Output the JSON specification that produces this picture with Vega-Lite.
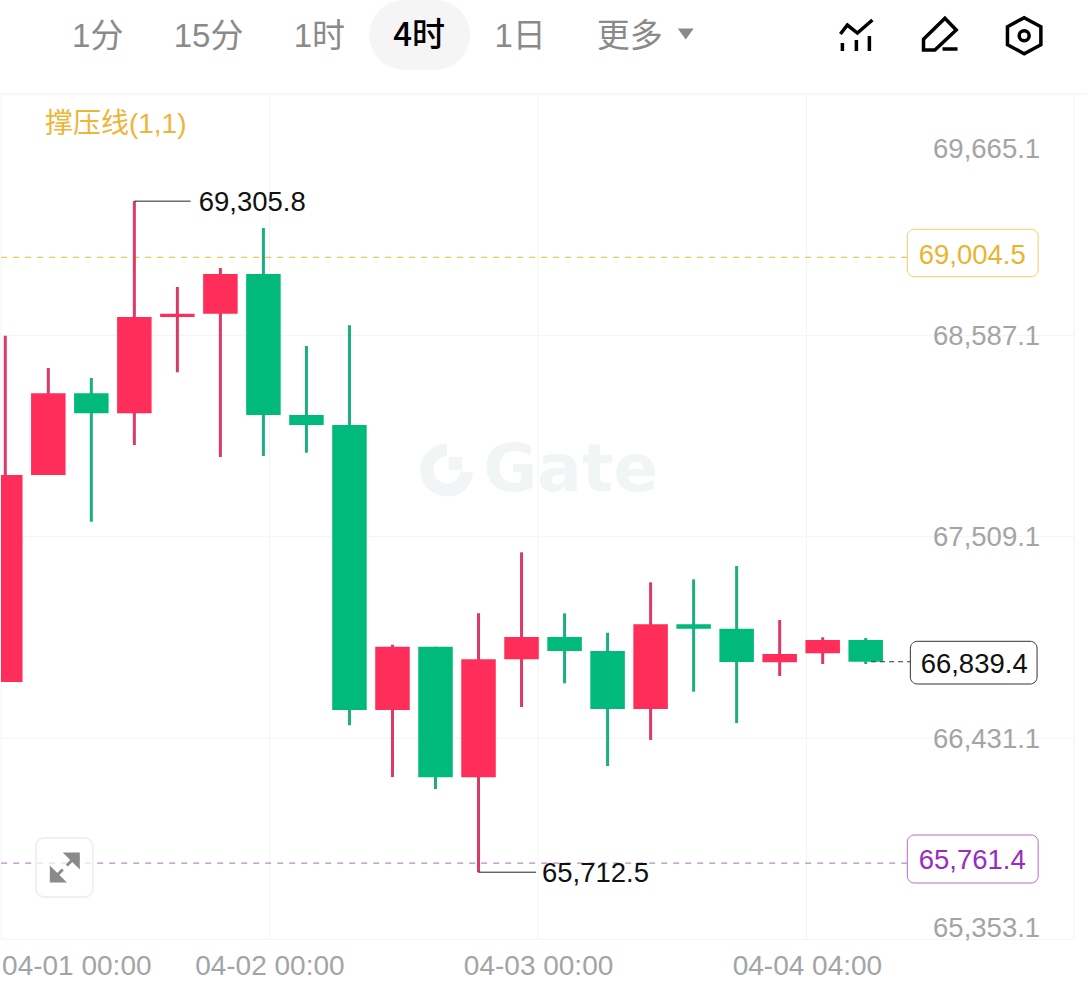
{"$schema":"https://vega.github.io/schema/vega-lite/v6.json","width":1088,"height":985,"padding":0,"autosize":{"type":"fit","contains":"padding"},"background":"#ffffff","config":{"view":{"stroke":null},"text":{"font":"Liberation Sans, Noto Sans CJK SC"}},
"datasets":{
"candles":[
{"t":"2024-04-01T00:00:00Z","open":66730.9,"high":68585.3,"low":66730.9,"close":67839.4,"dir":"up"},
{"t":"2024-04-01T04:00:00Z","open":67839.4,"high":68412.4,"low":67839.4,"close":68276.9,"dir":"up"},
{"t":"2024-04-01T08:00:00Z","open":68276.9,"high":68358.8,"low":67589.3,"close":68169.8,"dir":"down"},
{"t":"2024-04-01T12:00:00Z","open":68169.8,"high":69305.8,"low":68000.0,"close":68685.5,"dir":"up"},
{"t":"2024-04-01T16:00:00Z","open":68685.5,"high":68846.1,"low":68389.3,"close":68703.1,"dir":"up"},
{"t":"2024-04-01T20:00:00Z","open":68703.1,"high":68947.9,"low":67935.8,"close":68915.7,"dir":"up"},
{"t":"2024-04-02T00:00:00Z","open":68915.7,"high":69162.1,"low":67941.1,"close":68160.7,"dir":"down"},
{"t":"2024-04-02T04:00:00Z","open":68160.7,"high":68530.2,"low":67958.8,"close":68107.1,"dir":"down"},
{"t":"2024-04-02T08:00:00Z","open":68107.1,"high":68641.0,"low":66499.0,"close":66580.9,"dir":"down"},
{"t":"2024-04-02T12:00:00Z","open":66580.9,"high":66930.6,"low":66222.2,"close":66919.9,"dir":"up"},
{"t":"2024-04-02T16:00:00Z","open":66919.9,"high":66919.9,"low":66157.9,"close":66220.6,"dir":"down"},
{"t":"2024-04-02T20:00:00Z","open":66220.6,"high":67098.8,"low":65712.5,"close":66852.5,"dir":"up"},
{"t":"2024-04-03T00:00:00Z","open":66852.5,"high":67425.4,"low":66597.0,"close":66971.9,"dir":"up"},
{"t":"2024-04-03T04:00:00Z","open":66971.9,"high":67098.8,"low":66723.9,"close":66896.9,"dir":"down"},
{"t":"2024-04-03T08:00:00Z","open":66896.9,"high":66994.9,"low":66281.1,"close":66586.3,"dir":"down"},
{"t":"2024-04-03T12:00:00Z","open":66586.3,"high":67264.8,"low":66420.3,"close":67039.9,"dir":"up"},
{"t":"2024-04-03T16:00:00Z","open":67039.9,"high":67280.8,"low":66678.9,"close":67016.3,"dir":"down"},
{"t":"2024-04-03T20:00:00Z","open":67016.3,"high":67352.1,"low":66511.3,"close":66838.0,"dir":"down"},
{"t":"2024-04-04T00:00:00Z","open":66836.4,"high":67062.9,"low":66763.0,"close":66880.8,"dir":"up"},
{"t":"2024-04-04T04:00:00Z","open":66884.5,"high":66970.3,"low":66827.3,"close":66955.8,"dir":"up"},
{"t":"2024-04-04T08:00:00Z","open":66955.8,"high":66966.5,"low":66827.3,"close":66839.4,"dir":"down"}
],
"hgrid":[{"p":68587.1,"t":"2024-03-31T23:37:00Z","t2":"2024-04-05T03:28:00Z"},{"p":67509.1,"t":"2024-03-31T23:37:00Z","t2":"2024-04-05T03:28:00Z"},{"p":66431.1,"t":"2024-03-31T23:37:00Z","t2":"2024-04-05T03:28:00Z"},{"p":65353.1,"t":"2024-03-31T23:37:00Z","t2":"2024-04-05T03:28:00Z"}],
"vgrid":[{"t":"2024-03-31T23:37:00Z","p":69879.7,"p2":65353.1},{"t":"2024-04-02T00:34:00Z","p":69879.7,"p2":65353.1},{"t":"2024-04-03T01:32:00Z","p":69879.7,"p2":65353.1},{"t":"2024-04-04T02:30:00Z","p":69879.7,"p2":65353.1},{"t":"2024-04-05T03:22:00Z","p":69879.7,"p2":65353.1}],
"xlabels":[{"t":"2024-04-01T06:39:00Z","p":65215.4,"label":"04-01 00:00"},{"t":"2024-04-02T00:36:00Z","p":65215.4,"label":"04-02 00:00"},{"t":"2024-04-03T01:35:00Z","p":65215.4,"label":"04-03 00:00"},{"t":"2024-04-04T02:35:00Z","p":65215.4,"label":"04-04 04:00"}],
"ylabels":[{"t":"2024-04-05T00:13:00Z","p":69590.5,"label":"69,665.1"},{"t":"2024-04-05T00:13:00Z","p":68591.8,"label":"68,587.1"},{"t":"2024-04-05T00:13:00Z","p":67512.8,"label":"67,509.1"},{"t":"2024-04-05T00:13:00Z","p":66433.7,"label":"66,431.1"},{"t":"2024-04-05T00:13:00Z","p":65418.9,"label":"65,353.1"}],
"toolbar":[{"t":"2024-04-01T08:36:00Z","p":70190.3,"label":"1分"},{"t":"2024-04-01T18:54:00Z","p":70190.3,"label":"15分"},{"t":"2024-04-02T05:12:00Z","p":70190.3,"label":"1时"},{"t":"2024-04-02T23:52:00Z","p":70190.3,"label":"1日"},{"t":"2024-04-03T10:04:00Z","p":70190.3,"label":"更多"}]
},
"encoding":{
"x":{"field":"t","type":"temporal","axis":null,"scale":{"type":"utc","domain":["2024-03-31T23:36:04Z","2024-04-05T04:34:30Z"],"nice":false,"padding":0}},
"y":{"field":"p","type":"quantitative","axis":null,"scale":{"domain":[65108.4,70383.05],"nice":false,"zero":false,"padding":0}}
},
"layer":[
{"data":{"values":[{"t":"2024-04-02T09:51:00Z","t2":"2024-04-02T19:13:00Z","p":70383.0,"p2":70008.2}]},"mark":{"type":"rect","fill":"#f5f5f5","cornerRadius":35},"encoding":{"x2":{"field":"t2"},"y2":{"field":"p2"}}},
{"data":{"values":[{"t":"2024-03-31T23:37:00Z","t2":"2024-04-05T04:33:00Z","p":69879.7}]},"mark":{"type":"rule","stroke":"#efefef","strokeWidth":1},"encoding":{"x2":{"field":"t2"}}},
{"data":{"name":"hgrid"},"mark":{"type":"rule","stroke":"#f3f4f4","strokeWidth":1},"encoding":{"x2":{"field":"t2"}}},
{"data":{"name":"vgrid"},"mark":{"type":"rule","stroke":"#f3f4f4","strokeWidth":1},"encoding":{"y2":{"field":"p2"}}},
{"data":{"values":[{"t":"2024-04-02T20:26:00Z","p":67861,"label":"Gate"}]},"mark":{"type":"text","align":"left","baseline":"middle","font":"DejaVu Sans","fontWeight":"bold","fontSize":66,"fill":"#f2f5f5"},"encoding":{"text":{"field":"label"}}},
{"data":{"values":[{"t":"2024-04-02T17:03:00Z","p":67866.2}]},"mark":{"type":"point","shape":"M0,-20 A20,20 0 1 0 20,2 M2,-6.5 H15","size":4,"filled":false,"stroke":"#f2f5f5","strokeWidth":13,"opacity":1}},
{"data":{"values":[{"t":"2024-03-31T23:37:00Z","t2":"2024-04-04T11:52:00Z","p":69004.5}]},"mark":{"type":"rule","stroke":"#eec94f","strokeWidth":1.2,"strokeDash":[6,6]},"encoding":{"x2":{"field":"t2"}}},
{"data":{"values":[{"t":"2024-03-31T23:37:00Z","t2":"2024-04-04T11:52:00Z","p":65761.4}]},"mark":{"type":"rule","stroke":"#b987c9","strokeWidth":1.2,"strokeDash":[6,6]},"encoding":{"x2":{"field":"t2"}}},
{"data":{"name":"candles"},"mark":{"type":"rule","strokeWidth":3,"clip":true},"encoding":{"y":{"field":"high"},"y2":{"field":"low"},"stroke":{"field":"dir","type":"nominal","legend":null,"scale":{"domain":["up","down"],"range":["#dc3a63","#1cae80"]}}}},
{"data":{"name":"candles"},"mark":{"type":"bar","width":34.5,"orient":"vertical","clip":true},"encoding":{"y":{"field":"open"},"y2":{"field":"close"},"fill":{"field":"dir","type":"nominal","legend":null,"scale":{"domain":["up","down"],"range":["#ff2d5a","#00b97b"]}}}},
{"data":{"values":[{"t":"2024-04-01T12:00:00Z","t2":"2024-04-01T17:14:00Z","p":69305.8},{"t":"2024-04-02T20:00:00Z","t2":"2024-04-03T01:21:00Z","p":65712.5}]},"mark":{"type":"rule","stroke":"#222222","strokeWidth":1},"encoding":{"x2":{"field":"t2"}}},
{"data":{"values":[{"t":"2024-04-01T17:59:00Z","p":69305.8,"label":"69,305.8"},{"t":"2024-04-03T01:54:00Z","p":65712.5,"label":"65,712.5"}]},"mark":{"type":"text","align":"left","baseline":"middle","dy":2,"fontSize":27.5,"fill":"#111111"},"encoding":{"text":{"field":"label"}}},
{"data":{"values":[{"t":"2024-04-04T08:30:00Z","t2":"2024-04-04T12:09:00Z","p":66839.4}]},"mark":{"type":"rule","stroke":"#333333","strokeWidth":1,"strokeDash":[5,4]},"encoding":{"x2":{"field":"t2"}}},
{"data":{"values":[{"t":"2024-04-04T11:52:00Z","t2":"2024-04-05T00:02:00Z","p":69155.1,"p2":68901.3}]},"mark":{"type":"rect","fill":"#ffffff","stroke":"#f0cd62","strokeWidth":1,"cornerRadius":7},"encoding":{"x2":{"field":"t2"},"y2":{"field":"p2"}}},
{"data":{"values":[{"t":"2024-04-04T11:52:00Z","t2":"2024-04-05T00:02:00Z","p":65911.6,"p2":65654.6}]},"mark":{"type":"rect","fill":"#ffffff","stroke":"#b768cf","strokeWidth":1,"cornerRadius":7},"encoding":{"x2":{"field":"t2"},"y2":{"field":"p2"}}},
{"data":{"values":[{"t":"2024-04-04T12:09:00Z","t2":"2024-04-04T23:56:00Z","p":66948.9,"p2":66720.2}]},"mark":{"type":"rect","fill":"#ffffff","stroke":"#333333","strokeWidth":1,"cornerRadius":7},"encoding":{"x2":{"field":"t2"},"y2":{"field":"p2"}}},
{"data":{"values":[{"t":"2024-04-04T17:54:00Z","p":69022.9,"label":"69,004.5"}]},"mark":{"type":"text","align":"center","baseline":"middle","dy":2,"fontSize":27.5,"fill":"#e9b530"},"encoding":{"text":{"field":"label"}}},
{"data":{"values":[{"t":"2024-04-04T17:54:00Z","p":65783,"label":"65,761.4"}]},"mark":{"type":"text","align":"center","baseline":"middle","dy":2,"fontSize":27.5,"fill":"#9a2bc3"},"encoding":{"text":{"field":"label"}}},
{"data":{"values":[{"t":"2024-04-04T18:05:00Z","p":66832.7,"label":"66,839.4"}]},"mark":{"type":"text","align":"center","baseline":"middle","dy":2,"fontSize":27.5,"fill":"#111111"},"encoding":{"text":{"field":"label"}}},
{"data":{"name":"ylabels"},"mark":{"type":"text","align":"right","baseline":"middle","dy":2,"fontSize":27.5,"fill":"#a2a5a8"},"encoding":{"text":{"field":"label"}}},
{"data":{"name":"xlabels"},"mark":{"type":"text","align":"center","baseline":"middle","dy":2,"fontSize":28,"fill":"#a2a5a8"},"encoding":{"text":{"field":"label"}}},
{"data":{"values":[{"t":"2024-04-01T03:41:00Z","p":69724.4,"label":"撑压线(1,1)"}]},"mark":{"type":"text","align":"left","baseline":"middle","dy":2,"fontSize":28,"fill":"#edb53a"},"encoding":{"text":{"field":"label"}}},
{"data":{"name":"toolbar"},"mark":{"type":"text","align":"center","baseline":"middle","dy":1,"fontSize":33,"fill":"#8a8a8a"},"encoding":{"text":{"field":"label"}}},
{"data":{"values":[{"t":"2024-04-02T14:29:00Z","p":70190.3,"label":"4时"}]},"mark":{"type":"text","align":"center","baseline":"middle","fontSize":33,"fontWeight":500,"font":"Noto Sans CJK SC","fill":"#000000"},"encoding":{"text":{"field":"label"}}},
{"data":{"values":[{"t":"2024-04-03T15:16:00Z","p":70201}]},"mark":{"type":"point","shape":"M-8,-5.5 H8 L0,5.5 Z","size":4,"filled":true,"fill":"#8a8a8a","opacity":1}},
{"data":{"values":[{"t":"2024-04-04T07:08:00Z","p":70192.9}]},"mark":{"type":"point","shape":"M-16,-1.5 L-9,-10.5 L1,-2.5 L16,-15.5 M-14,15.5 V7.5 M0,15.5 V4.5 M13,15.5 V0.5","size":4,"filled":false,"stroke":"#000000","strokeWidth":3.5,"opacity":1}},
{"data":{"values":[{"t":"2024-04-04T14:50:00Z","p":70195.6}]},"mark":{"type":"point","shape":"M-15.7,15 V4.3 L5.7,-16.7 L17,-5 L-4.3,15 Z M3.3,14 H18.3","size":4,"filled":false,"stroke":"#000000","strokeWidth":3.5,"opacity":1}},
{"data":{"values":[{"t":"2024-04-04T22:44:00Z","p":70191.9}]},"mark":{"type":"point","shape":"M0,-18 L16.7,-9 V9 L0,18 L-16.7,9 V-9 Z M5,0 A5,5 0 1 1 -5,0 A5,5 0 1 1 5,0 Z","size":4,"filled":false,"stroke":"#000000","strokeWidth":3.5,"opacity":1}},
{"data":{"values":[{"t":"2024-04-01T02:51:00Z","t2":"2024-04-01T08:08:00Z","p":65895.5,"p2":65579.6}]},"mark":{"type":"rect","fill":"#ffffff","fillOpacity":0.7,"stroke":"#f0f0f0","strokeWidth":2,"cornerRadius":8},"encoding":{"x2":{"field":"t2"},"y2":{"field":"p2"}}},
{"data":{"values":[{"t":"2024-04-01T05:32:00Z","p":65737.6}]},"mark":{"type":"point","shape":"M13.5,-13.5 H1.5 L13.5,-1.5 Z M-13.5,13.5 H-1.5 L-13.5,1.5 Z M8,-8 L2,-2 M-8,8 L-2,2","size":4,"filled":true,"fill":"#8a8a8a","stroke":"#8a8a8a","strokeWidth":3,"opacity":1}}
]}
